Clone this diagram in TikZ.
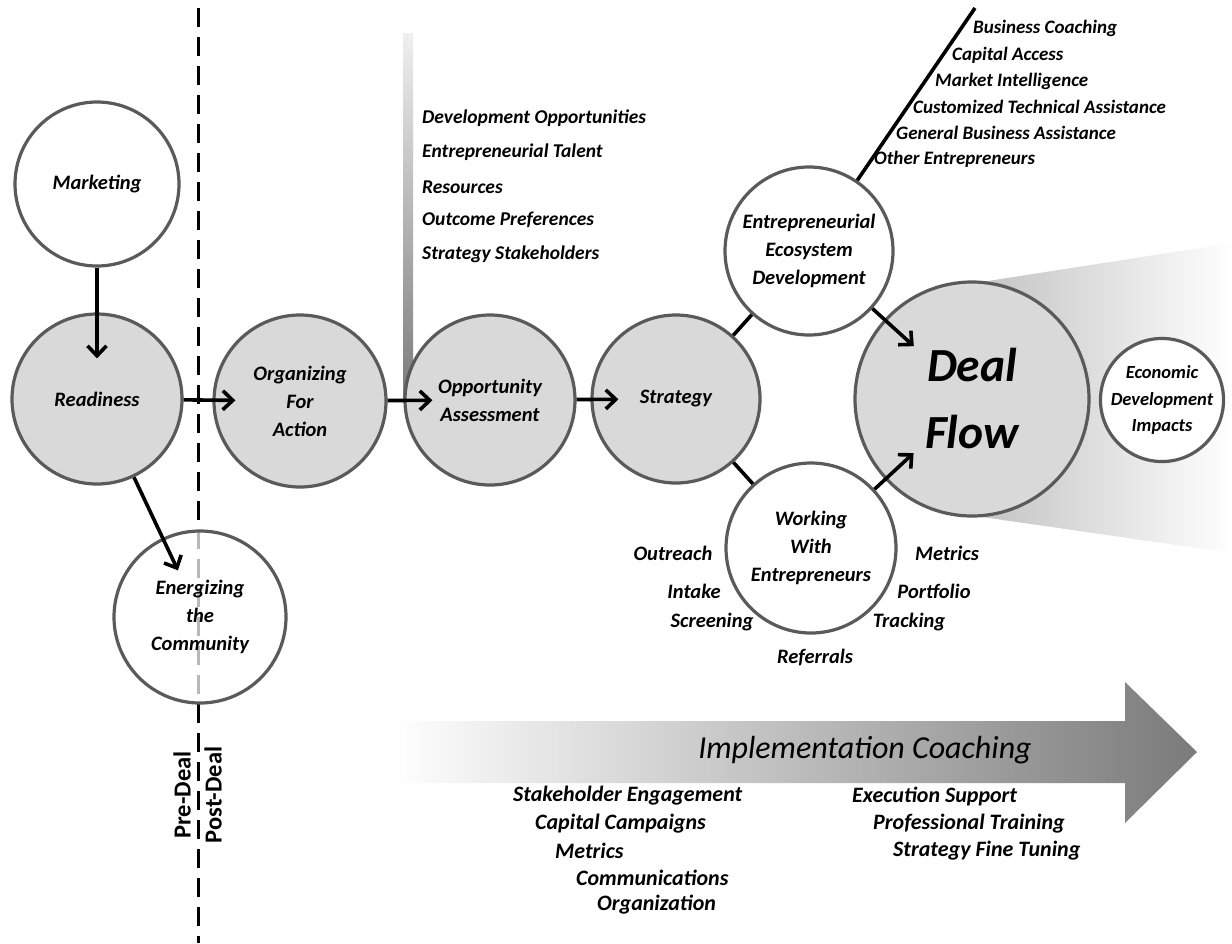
\documentclass[tikz,border=0pt]{standalone}
\usepackage{fontspec}
\setmainfont{Carlito}
\usetikzlibrary{arrows.meta}
\definecolor{cfill}{HTML}{D9D9D9}
\definecolor{cline}{HTML}{5A5A5A}
\begin{document}
\begin{tikzpicture}[x=1pt,y=-1pt,
  circ/.style={circle,draw=cline,line width=3.2pt,inner sep=0pt,align=center,font=\fontsize{20.5}{28}\selectfont\bfseries\itshape},
  gcirc/.style={circ,fill=cfill},
  wcirc/.style={circ,fill=white},
  arr/.style={line width=3.6pt,-{Straight Barb[length=10pt,width=19pt]}},
  link/.style={line width=3.6pt},
  lbl/.style={inner sep=0pt,font=\fontsize{20.5}{22}\selectfont\bfseries\itshape},
  opl/.style={lbl,anchor=west,font=\fontsize{19.5}{22}\selectfont\bfseries\itshape},
  sml/.style={lbl,anchor=west,font=\fontsize{19}{22}\selectfont\bfseries\itshape},
  bot/.style={lbl,anchor=west,font=\fontsize{22}{24}\selectfont\bfseries\itshape},
]
\useasboundingbox (0,0) rectangle (1232,943);

% dashed divider
\coordinate (dtop) at (198,8);
\coordinate (dbot) at (198,943);
\draw[line width=3pt,dash pattern=on 19pt off 10pt] (dtop) -- (dbot);

% gradient bar
\shade[top color=white!94!black,bottom color=black!52] (403,33) rectangle (413,400);

% implementation arrow
\shade[left color=white,right color=black!52] (390,721) -- (1125,721) -- (1125,682) -- (1197,752) -- (1125,823) -- (1125,783) -- (390,783) -- cycle;
\node[font=\fontsize{32}{34}\selectfont\itshape] (impl) at (865,750) {Implementation Coaching};

% cone behind deal flow
\shade[left color=black!24,right color=white] (975,283) -- (1232,243) -- (1232,553) -- (975,516) -- cycle;

% circles
\node[wcirc,minimum size=164pt] (mkt) at (97,184) {Marketing};
\node[gcirc,minimum size=170pt] (rdy) at (97,399) {Readiness};
\node[circ,fill=white,fill opacity=0.72,text opacity=1,minimum size=172pt] (ene) at (200,617) {Energizing\\the\\Community};
\node[gcirc,minimum size=172pt] (org) at (300,401) {Organizing\\For\\Action};
\node[gcirc,minimum size=170pt] (opp) at (490,400) {Opportunity\\Assessment};
\node[gcirc,minimum size=168pt] (str) at (676,399) {Strategy};
\node[wcirc,minimum size=168pt] (eco) at (809,251) {Entrepreneurial\\Ecosystem\\Development};
\node[wcirc,minimum size=170pt] (wwe) at (811,548) {Working\\With\\Entrepreneurs};
\node[gcirc,minimum size=234pt,font=\fontsize{47.5}{67}\selectfont\bfseries\itshape] (deal) at (972,399) {Deal\\Flow};
\node[wcirc,minimum size=118pt,font=\fontsize{18.5}{26.5}\selectfont\bfseries\itshape] (econ) at (1162,400) {Economic\\Development\\Impacts};

% connectors
\coordinate (ecotop) at (975,8);
\draw[link] (str) -- (eco);
\draw[link] (str) -- (wwe);
\draw[link] (eco) -- (ecotop);
\draw[arr,shorten >=-46pt] (mkt) -- (rdy);
\draw[arr,shorten >=-23pt] (rdy) -- (org);
\draw[arr,shorten >=-29pt] (org) -- (opp);
\draw[arr,shorten >=-28pt] (opp) -- (str);
\draw[arr,shorten >=-36pt] (rdy) -- (ene);
\draw[arr,shorten >=-40pt] (eco) -- (deal);
\draw[arr,shorten >=-39pt] (wwe) -- (deal);

% pre/post deal
\node[rotate=90,font=\fontsize{24.5}{26}\selectfont\bfseries] (pre) at (182,795) {Pre-Deal};
\node[rotate=90,font=\fontsize{24.5}{26}\selectfont\bfseries] (post) at (213,795) {Post-Deal};

% opportunity list
\node[opl] (l1) at (422,118) {Development Opportunities};
\node[opl] (l2) at (422,152) {Entrepreneurial Talent};
\node[opl] (l3) at (422,187) {Resources};
\node[opl] (l4) at (422,220) {Outcome Preferences};
\node[opl] (l5) at (422,254) {Strategy Stakeholders};

% ecosystem list
\node[sml] (e1) at (973,28) {Business Coaching};
\node[sml] (e2) at (952,55) {Capital Access};
\node[sml] (e3) at (935,81) {Market Intelligence};
\node[sml] (e4) at (913,107) {Customized Technical Assistance};
\node[sml] (e5) at (896,133) {General Business Assistance};
\node[sml] (e6) at (874,159) {Other Entrepreneurs};

% working list
\node[lbl] (w1) at (673,553) {Outreach};
\node[lbl] (w2) at (694,591) {Intake};
\node[lbl] (w3) at (712,622) {Screening};
\node[lbl] (w4) at (815,657) {Referrals};
\node[lbl] (w5) at (947,553) {Metrics};
\node[lbl] (w6) at (934,591) {Portfolio};
\node[lbl] (w7) at (909,622) {Tracking};

% implementation lists
\node[bot] (i1) at (513,796) {Stakeholder Engagement};
\node[bot] (i2) at (535,824) {Capital Campaigns};
\node[bot] (i3) at (555,851) {Metrics};
\node[bot] (i4) at (576,878) {Communications};
\node[bot] (i5) at (597,905) {Organization};
\node[bot] (j1) at (852,796) {Execution Support};
\node[bot] (j2) at (873,824) {Professional Training};
\node[bot] (j3) at (893,851) {Strategy Fine Tuning};
\end{tikzpicture}
\end{document}
